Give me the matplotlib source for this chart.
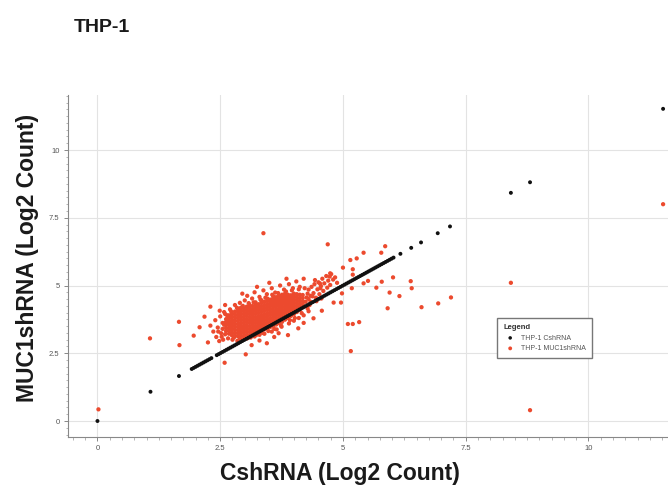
import numpy as np
import matplotlib.pyplot as plt
from matplotlib.ticker import MultipleLocator, FuncFormatter

plt.rcParams['font.family'] = ['Liberation Sans', 'DejaVu Sans']

# THP-1 CshRNA (control against itself, so x == y)
ctrl_x = [0.00, 1.08, 1.66,
          1.92, 1.96, 2.00, 2.04, 2.08, 2.12, 2.16, 2.20, 2.24, 2.28, 2.32,
          2.43, 2.47, 2.51, 2.55, 2.59, 2.63, 2.67, 2.71, 2.75, 2.79, 2.83,
          2.87, 2.91, 2.95, 2.99, 3.03, 3.07, 3.11, 3.15, 3.19, 3.23, 3.27,
          3.31, 3.35, 3.39, 3.43, 3.47, 3.51, 3.55, 3.59, 3.63, 3.67, 3.71,
          3.75, 3.79, 3.83, 3.87, 3.91, 3.95, 3.99, 4.03, 4.07, 4.11, 4.15,
          4.19, 4.23, 4.27, 4.31, 4.35, 4.39, 4.43, 4.47, 4.51, 4.55, 4.59,
          4.63, 4.67, 4.71, 4.75, 4.79, 4.83, 4.87, 4.91, 4.95, 4.99, 5.03,
          5.07, 5.11, 5.15, 5.19, 5.23, 5.27, 5.31, 5.35, 5.39, 5.43, 5.47,
          5.51, 5.55, 5.59, 5.63, 5.67, 5.71, 5.75, 5.79, 5.83, 5.87, 5.91,
          5.95, 5.99, 6.03,
          6.17, 6.39, 6.59, 6.93, 7.18, 8.42, 8.81, 11.52]
ctrl_y = list(ctrl_x)

# THP-1 MUC1shRNA, dense core read column by column
core_cols = [
    (2.62, [3.32, 3.43, 3.55, 3.66, 3.76]),
    (2.68, [3.22, 3.34, 3.45, 3.57, 3.68, 3.80, 3.90]),
    (2.74, [3.16, 3.27, 3.39, 3.50, 3.61, 3.72, 3.84, 3.96]),
    (2.80, [3.14, 3.25, 3.37, 3.48, 3.59, 3.70, 3.82, 3.93, 4.04]),
    (2.86, [3.13, 3.24, 3.35, 3.47, 3.58, 3.70, 3.81, 3.92, 4.04, 4.14]),
    (2.92, [3.16, 3.28, 3.40, 3.51, 3.62, 3.74, 3.86, 3.97, 4.08, 4.18]),
    (2.98, [3.14, 3.26, 3.37, 3.48, 3.60, 3.71, 3.82, 3.94, 4.05, 4.16]),
    (3.04, [3.18, 3.30, 3.42, 3.53, 3.65, 3.76, 3.88, 3.99, 4.10, 4.22]),
    (3.10, [3.16, 3.28, 3.39, 3.50, 3.62, 3.73, 3.84, 3.96, 4.07, 4.18, 4.28]),
    (3.16, [3.22, 3.33, 3.44, 3.56, 3.67, 3.78, 3.90, 4.01, 4.12, 4.24]),
    (3.22, [3.26, 3.37, 3.49, 3.61, 3.72, 3.83, 3.95, 4.06, 4.17, 4.28, 4.38]),
    (3.28, [3.30, 3.41, 3.52, 3.64, 3.75, 3.86, 3.98, 4.09, 4.20, 4.31]),
    (3.34, [3.34, 3.45, 3.56, 3.68, 3.79, 3.90, 4.02, 4.13, 4.24, 4.36, 4.45]),
    (3.40, [3.38, 3.49, 3.60, 3.72, 3.83, 3.94, 4.06, 4.17, 4.28, 4.40]),
    (3.46, [3.42, 3.53, 3.64, 3.76, 3.87, 3.98, 4.10, 4.21, 4.32, 4.44, 4.52]),
    (3.52, [3.47, 3.58, 3.69, 3.80, 3.92, 4.03, 4.14, 4.26, 4.37, 4.48]),
    (3.58, [3.51, 3.62, 3.73, 3.85, 3.96, 4.07, 4.19, 4.30, 4.41, 4.52, 4.60]),
    (3.64, [3.56, 3.67, 3.78, 3.90, 4.01, 4.12, 4.24, 4.35, 4.46, 4.57]),
    (3.70, [3.61, 3.72, 3.83, 3.95, 4.06, 4.17, 4.29, 4.40, 4.51, 4.62]),
    (3.76, [3.66, 3.77, 3.88, 4.00, 4.11, 4.22, 4.34, 4.45, 4.56, 4.66]),
    (3.82, [3.74, 3.85, 3.96, 4.07, 4.18, 4.29, 4.40, 4.51, 4.62, 4.70]),
    (3.88, [3.80, 3.91, 4.02, 4.13, 4.24, 4.35, 4.46, 4.57, 4.66]),
    (3.94, [3.88, 3.99, 4.10, 4.21, 4.32, 4.43, 4.54, 4.64]),
    (4.00, [3.94, 4.05, 4.16, 4.27, 4.38, 4.49, 4.60, 4.70]),
    (4.06, [4.02, 4.13, 4.24, 4.35, 4.46, 4.57, 4.68]),
    (4.12, [4.10, 4.21, 4.32, 4.43, 4.54, 4.66]),
    (4.18, [4.20, 4.31, 4.42, 4.54, 4.65]),
]

# THP-1 MUC1shRNA, loose points around the core and outliers
muc_pts = [
    # soft edge of the core
    (2.55, 3.40), (2.58, 3.55), (2.60, 3.20), (2.64, 3.90), (2.66, 3.05),
    (2.72, 4.05), (2.78, 3.08), (2.84, 4.18), (2.90, 3.05), (2.96, 4.25),
    (3.02, 3.12), (3.08, 4.35), (3.12, 3.08), (3.18, 4.38), (3.24, 3.18),
    (3.32, 4.48), (3.36, 3.25), (3.42, 4.55), (3.48, 3.32), (3.56, 4.66),
    (3.60, 3.40), (3.68, 4.72), (3.74, 3.52), (3.84, 4.78), (3.92, 3.72),
    (3.96, 4.82), (4.02, 3.80), (4.10, 4.86), (4.16, 3.98), (4.22, 4.90),
    (4.28, 4.15), (4.28, 4.70), (4.32, 4.28), (4.38, 4.60), (4.24, 4.40),
    (4.26, 4.56),
    # upper right streak
    (4.30, 4.50), (4.30, 4.85), (4.34, 4.62), (4.36, 4.95), (4.40, 4.72),
    (4.42, 5.05), (4.45, 4.55), (4.48, 4.86), (4.50, 5.12), (4.52, 4.68),
    (4.55, 4.98), (4.58, 5.25), (4.60, 4.80), (4.62, 5.08), (4.66, 5.35),
    (4.68, 4.92), (4.70, 5.18), (4.74, 5.02), (4.76, 5.42), (4.80, 5.22),
    (4.84, 5.30), (4.88, 5.10), (4.34, 4.40), (4.46, 4.42), (4.56, 4.52),
    # left fringe
    (2.30, 3.52), (2.36, 3.30), (2.40, 3.72), (2.42, 3.10), (2.45, 3.45),
    (2.50, 3.86), (2.52, 3.24), (2.55, 3.62), (2.56, 3.00), (2.58, 4.02),
    (2.48, 2.95), (2.60, 3.95),
    # upper fringe
    (2.70, 4.12), (2.80, 4.28), (2.90, 4.36), (3.00, 4.45), (3.05, 4.62),
    (3.15, 4.52), (3.20, 4.75), (3.30, 4.58), (3.38, 4.82), (3.45, 4.68),
    (3.55, 4.90), (3.62, 4.74), (3.72, 5.00), (3.80, 4.85), (3.90, 5.05),
    (3.98, 4.90), (4.05, 5.15), (4.12, 4.95), (4.20, 5.25), (3.25, 4.95),
    (3.50, 5.10), (2.95, 4.70), (3.85, 5.25),
    # lower fringe
    (2.75, 3.00), (2.85, 2.96), (2.95, 3.02), (3.05, 3.05), (3.20, 3.12),
    (3.30, 3.18), (3.40, 3.22), (3.55, 3.30), (3.65, 3.38), (3.75, 3.48),
    (3.90, 3.60), (4.00, 3.70), (4.10, 3.80), (4.20, 3.90), (4.30, 4.05),
    (3.14, 2.80), (3.45, 2.87), (3.30, 2.97), (3.02, 2.46), (3.69, 3.24),
    (3.88, 3.17), (4.09, 3.42), (4.40, 3.79), (4.57, 4.07), (4.20, 3.62),
    (3.60, 3.10),
    # outliers
    (0.02, 0.43), (1.07, 3.05), (1.66, 3.66), (1.67, 2.80), (1.96, 3.15),
    (2.08, 3.46), (2.18, 3.85), (2.30, 4.22), (2.25, 2.90), (2.49, 4.07),
    (2.60, 4.28), (2.59, 2.15), (2.46, 3.30), (2.53, 3.11),
    (3.38, 6.93), (4.69, 6.52), (5.15, 5.94), (5.28, 6.00), (5.42, 6.21),
    (5.78, 6.21), (5.86, 6.45), (5.00, 5.66), (5.20, 5.60), (5.20, 5.40),
    (6.02, 5.30), (5.51, 5.17), (5.42, 5.08), (5.79, 5.14), (5.18, 4.90),
    (5.68, 4.92), (5.95, 4.74), (6.38, 5.16), (6.40, 4.90), (6.15, 4.61),
    (5.91, 4.16), (6.60, 4.20), (6.94, 4.34), (7.20, 4.56), (5.10, 3.58),
    (5.20, 3.58), (5.33, 3.65), (5.16, 2.58), (4.81, 4.37), (4.96, 4.37),
    (4.98, 4.71), (4.74, 5.45), (4.73, 5.33), (4.43, 5.20), (4.53, 5.08),
    (4.54, 4.90), (8.42, 5.10), (8.81, 0.40), (11.52, 8.00),
]

muc_x = [x for x, ys in core_cols for _ in ys] + [p[0] for p in muc_pts]
muc_y = [y for _, ys in core_cols for y in ys] + [p[1] for p in muc_pts]

ticks = [0, 2.5, 5, 7.5, 10]

fig = plt.figure(figsize=(6.68, 4.94), dpi=100)
ax = fig.add_axes([68/668, 1 - 437/494, 600/668, 342/494])

red = '#ec4a2e'
ax.scatter(muc_x, muc_y, s=9.5, color=red, edgecolors='none', zorder=2,
           label='THP-1 MUC1shRNA')
ax.scatter(ctrl_x, ctrl_y, s=8, color='#111111', edgecolors='none', zorder=3,
           label='THP-1 CshRNA')

ax.set_xlim(-0.6, 11.62)
ax.set_ylim(-0.59, 12.03)
ax.set_xticks(ticks)
ax.set_yticks(ticks)
ax.xaxis.set_minor_locator(MultipleLocator(0.25))
ax.yaxis.set_minor_locator(MultipleLocator(0.25))
fmt = FuncFormatter(lambda v, p: '{:g}'.format(v))
ax.xaxis.set_major_formatter(fmt)
ax.yaxis.set_major_formatter(fmt)
ax.tick_params(which='major', length=3, width=0.7, color='#888888',
               labelsize=5.5, labelcolor='#555555', pad=3)
ax.tick_params(which='minor', length=1.8, width=0.5, color='#999999')

ax.grid(True, which='major', color='#e3e3e3', lw=0.8, zorder=0)
ax.set_axisbelow(True)
for side in ['top', 'right']:
    ax.spines[side].set_visible(False)
for side in ['left', 'bottom']:
    ax.spines[side].set_color('#888888')
    ax.spines[side].set_linewidth(0.8)

ax.set_xlabel('CshRNA (Log2 Count)', fontsize=16.5, fontweight='bold',
              color='#1a1a1a')
ax.xaxis.set_label_coords(0.453, -0.108)
ax.xaxis.label.set_va('center')
ax.set_ylabel('MUC1shRNA (Log2 Count)', fontsize=16.5, fontweight='bold',
              color='#1a1a1a')
ax.yaxis.set_label_coords(-0.068, 0.523)
ax.yaxis.label.set_va('center')

fig.text(74/668, 1 - 28/494, 'THP-1', fontsize=14, fontweight='bold',
         color='#1a1a1a', va='center', ha='left')

handles, labels = ax.get_legend_handles_labels()
leg = ax.legend(handles[::-1], labels[::-1], title='Legend',
                loc='upper left', bbox_to_anchor=(497/668, 1 - 318/494),
                bbox_transform=fig.transFigure, fontsize=5, title_fontsize=5.5,
                frameon=True, fancybox=False, edgecolor='#777777',
                framealpha=1, markerscale=0.9, handletextpad=0.6,
                borderpad=0.9, labelspacing=0.5, alignment='left',
                borderaxespad=0)
leg.get_title().set_fontweight('bold')
leg.get_title().set_color('#333333')
leg.get_frame().set_linewidth(1.0)
for t in leg.get_texts():
    t.set_color('#555555')

fig.savefig('out.png', dpi=100)
